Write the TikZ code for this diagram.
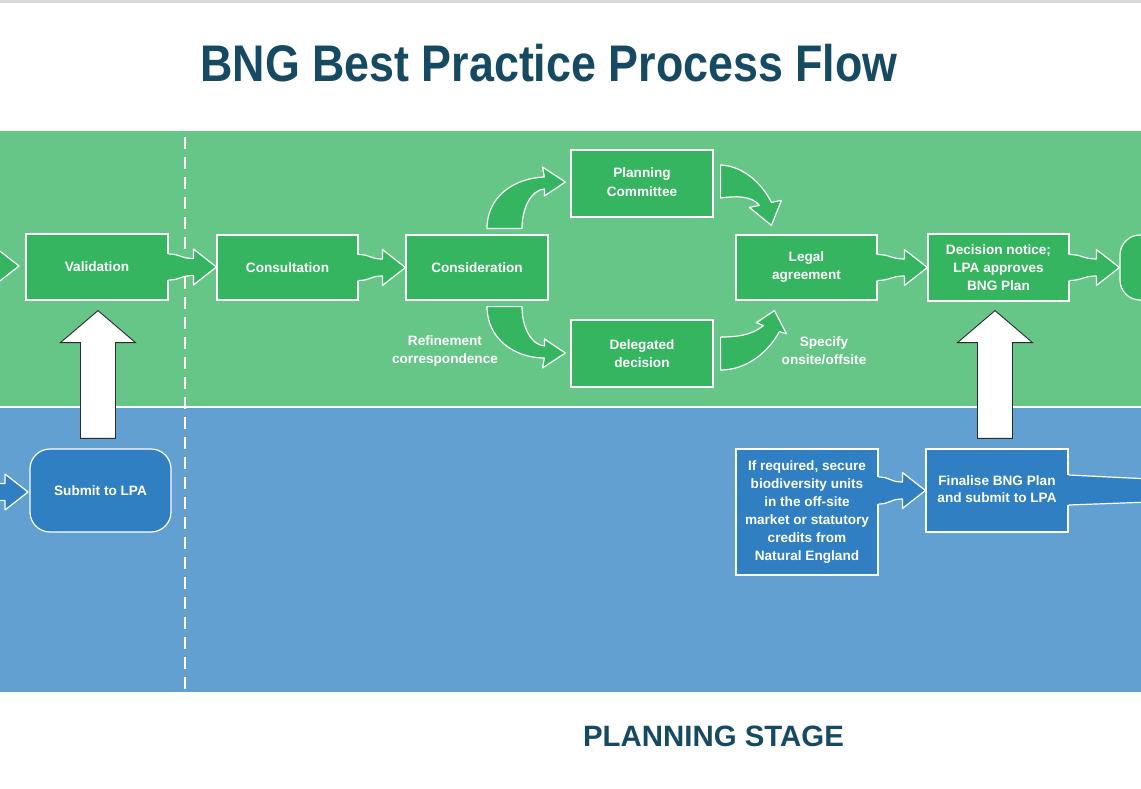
\documentclass[tikz,border=0pt]{standalone}
\usepackage{fontspec}
\setmainfont{Liberation Sans}
\usetikzlibrary{calc}
\definecolor{gband}{HTML}{66C687}
\definecolor{gbox}{HTML}{35B55F}
\definecolor{bband}{HTML}{62A0D2}
\definecolor{bbox}{HTML}{2F7FC2}
\definecolor{ttl}{HTML}{164A62}
\definecolor{dk}{HTML}{2B2B2B}
\tikzset{
  conn/.style={draw=white, line width=1.2pt, line join=round},
  boxfont/.style={font=\fontsize{13.6pt}{18pt}\selectfont\bfseries},
  procbox/.style={boxfont, draw=white, line width=1.2pt, text=white, align=center, inner sep=0pt},
  gproc/.style={procbox, fill=gbox},
  bproc/.style={procbox, fill=bbox},
  lbl/.style={boxfont, text=white, align=center, inner sep=0pt},
  uparrow/.style={fill=white, draw=dk, line width=0.9pt, line join=miter},
}
% straight block arrow: #1 start, #2 tip, #3 colour, #4 half width at start
\newcommand\harr[4]{%
 \fill[#3] let \p1=(#1), \p2=(#2) in
  (\x1-2.5pt,\y1+#4pt) -- (\x1,\y1+#4pt)
  .. controls (\x1+12pt,\y1+#4pt) and (\x2-36pt,\y1+8.5pt) .. (\x2-23pt,\y1+8.5pt)
  -- (\x2-23pt,\y1+18pt) -- (\x2,\y1) -- (\x2-23pt,\y1-18pt) -- (\x2-23pt,\y1-8.5pt)
  .. controls (\x2-36pt,\y1-8.5pt) and (\x1+12pt,\y1-#4pt) .. (\x1,\y1-#4pt)
  -- (\x1-2.5pt,\y1-#4pt) -- cycle;
 \draw[conn] let \p1=(#1), \p2=(#2) in
  (\x1,\y1+#4pt)
  .. controls (\x1+12pt,\y1+#4pt) and (\x2-36pt,\y1+8.5pt) .. (\x2-23pt,\y1+8.5pt)
  -- (\x2-23pt,\y1+18pt) -- (\x2,\y1) -- (\x2-23pt,\y1-18pt) -- (\x2-23pt,\y1-8.5pt)
  .. controls (\x2-36pt,\y1-8.5pt) and (\x1+12pt,\y1-#4pt) .. (\x1,\y1-#4pt);
}
% white up arrow: #1 bottom centre, #2 tip
\newcommand\uparr[2]{%
 \draw[uparrow] let \p1=(#1), \p2=(#2) in
  (\x1-17.5pt,\y1) -- (\x1-17.5pt,\y2-32pt) -- (\x1-37.5pt,\y2-32pt) -- (\x1,\y2)
  -- (\x1+37.5pt,\y2-32pt) -- (\x1+17.5pt,\y2-32pt) -- (\x1+17.5pt,\y1) -- cycle;
}
\begin{document}
\begin{tikzpicture}[x=1pt,y=-1pt]
\useasboundingbox (0,0) rectangle (1141,789);
\clip (0,0) rectangle (1141,789);
\fill[white] (0,0) rectangle (1141,789);
\fill[black!15] (0,0) rectangle (1141,3);
% bands
\fill[gband] (0,131) rectangle (1141,406);
\fill[bband] (0,408) rectangle (1141,692);
\draw[white, line width=1.5pt, dash pattern=on 12pt off 8pt] (185,137) -- (185,692);

% title and stage
\node[anchor=base, text=ttl, font=\fontsize{51.5pt}{55pt}\selectfont\bfseries, inner sep=0pt] (title) at (549,82) {\scalebox{0.87}[1]{BNG Best Practice Process Flow}};
\node[anchor=base, text=ttl, font=\fontsize{29.4pt}{32pt}\selectfont\bfseries, inner sep=0pt] (stage) at (713.5,746) {PLANNING STAGE};

% green row
\node[gproc, minimum width=142pt, minimum height=66pt] (val) at (97,267) {Validation};
\node[gproc, minimum width=141pt, minimum height=65pt] (consul) at (287.5,267.5) {Consultation};
\node[gproc, minimum width=142pt, minimum height=65pt] (consid) at (477,267.5) {Consideration};
\node[gproc, minimum width=142pt, minimum height=67pt] (pc) at (642,183.5) {\raisebox{1.5pt}{\begin{tabular}{@{}c@{}}Planning\\[0.5pt]Committee\end{tabular}}};
\node[gproc, minimum width=142pt, minimum height=67pt] (dd) at (642,353.5) {Delegated\\decision};
\node[gproc, minimum width=141pt, minimum height=65pt] (legal) at (806.5,267.5) {Legal\\agreement};
\node[gproc, minimum width=141pt, minimum height=67pt] (dn) at (998.5,267.5) {Decision notice;\\LPA approves\\BNG Plan};
\node[gproc, rounded corners=20pt, minimum width=140pt, minimum height=65pt] (nxt) at (1190,267.5) {};

% blue row
\node[bproc, rounded corners=20pt, minimum width=141pt, minimum height=83pt] (sub) at (100.5,490.5) {\raisebox{-2.5pt}{Submit to LPA}};
\node[bproc, minimum width=142pt, minimum height=126pt] (ifreq) at (807,512) {If required, secure\\biodiversity units\\in the off-site\\market or statutory\\credits from\\Natural England};
\node[bproc, minimum width=142pt, minimum height=83pt] (fin) at (997,490.5) {\raisebox{1.5pt}{\begin{tabular}{@{}c@{}}Finalise BNG Plan\\[-0.5pt]and submit to LPA\end{tabular}}};

% labels
\node[lbl] (refine) at (445,351) {Refinement\\correspondence};
\node[lbl] (spec) at (824,350.5) {Specify\\onsite/offsite};

% free ends
\coordinate (gin) at (-40,266);
\coordinate (gintip) at (19,266);
\coordinate (bin) at (-40,492);
\coordinate (bintip) at (28,492);
\coordinate (rout) at (1150,490.5);

% straight block arrows
\harr{gin}{gintip}{gbox}{13}
\harr{val.east}{consul.west}{gbox}{13}
\harr{consul.east}{consid.west}{gbox}{13}
\harr{legal.east}{dn.west}{gbox}{13}
\harr{dn.east}{nxt.west}{gbox}{13}
\harr{bin}{bintip}{bbox}{8}
\harr{ifreq.east |- fin.west}{fin.west}{bbox}{13.5}

% shaft leaving Finalise box
\fill[bbox] ($(fin.east)+(-2.5,-15.5)$) -- ($(fin.east)+(0,-15.5)$) -- ($(rout)+(0,-11.5)$)
  -- ($(rout)+(0,11.5)$) -- ($(fin.east)+(0,14.5)$) -- ($(fin.east)+(-2.5,14.5)$) -- cycle;
\draw[conn] ($(fin.east)+(0,-15.5)$) -- ($(rout)+(0,-11.5)$);
\draw[conn] ($(fin.east)+(0,14.5)$) -- ($(rout)+(0,11.5)$);

% curved arrows
\draw[conn, fill=gbox] ($(consid.north)+(10,-6)$)
  .. controls ($(consid.north)+(10,-38)$) and ($(pc.west)+(-56,-5.5)$) .. ($(pc.west)+(-26,-6.5)$)
  -- ($(pc.west)+(-28,-16.5)$) -- ($(pc.west)+(-5,-1.5)$) -- ($(pc.west)+(-26,12.5)$)
  -- ($(pc.west)+(-26,5.5)$)
  .. controls ($(pc.west)+(-39,6.5)$) and ($(consid.north)+(45,-27)$) .. ($(consid.north)+(45,-6)$)
  -- cycle;
\draw[conn, fill=gbox] ($(consid.south)+(10,6)$)
  .. controls ($(consid.south)+(10,38)$) and ($(dd.west)+(-56,4.5)$) .. ($(dd.west)+(-26,4.5)$)
  -- ($(dd.west)+(-28,14.5)$) -- ($(dd.west)+(-5,-0.5)$) -- ($(dd.west)+(-26,-14.5)$)
  -- ($(dd.west)+(-26,-7.5)$)
  .. controls ($(dd.west)+(-39,-8.5)$) and ($(consid.south)+(45,27)$) .. ($(consid.south)+(45,6)$)
  -- cycle;
\draw[conn, fill=gbox] ($(pc.east)+(7,-18.5)$)
  .. controls ($(pc.east)+(29,-17.5)$) and ($(legal.north west)+(26,-52)$) .. ($(legal.north west)+(36,-32)$)
  -- ($(legal.north west)+(46,-34)$) -- ($(legal.north west)+(36,-9)$) -- ($(legal.north west)+(14,-27)$)
  -- ($(legal.north west)+(24,-29)$)
  .. controls ($(legal.north west)+(16,-39)$) and ($(pc.east)+(22,12.5)$) .. ($(pc.east)+(7,14.5)$)
  -- cycle;
\draw[conn, fill=gbox] ($(dd.east)+(7,16.5)$)
  .. controls ($(dd.east)+(32,16.5)$) and ($(legal.south west)+(32,53)$) .. ($(legal.south west)+(44,31)$)
  -- ($(legal.south west)+(51,33)$) -- ($(legal.south west)+(39,10)$) -- ($(legal.south west)+(21,22)$)
  -- ($(legal.south west)+(28,25)$)
  .. controls ($(legal.south west)+(16,35)$) and ($(dd.east)+(22,-16.5)$) .. ($(dd.east)+(7,-16.5)$)
  -- cycle;

% white up arrows
\uparr{$(sub.north)+(-2.5,-10)$}{$(val.south)+(1,10)$}
\uparr{$(fin.north)+(-2,-10)$}{$(dn.south)+(-3.5,9)$}
\end{tikzpicture}
\end{document}
